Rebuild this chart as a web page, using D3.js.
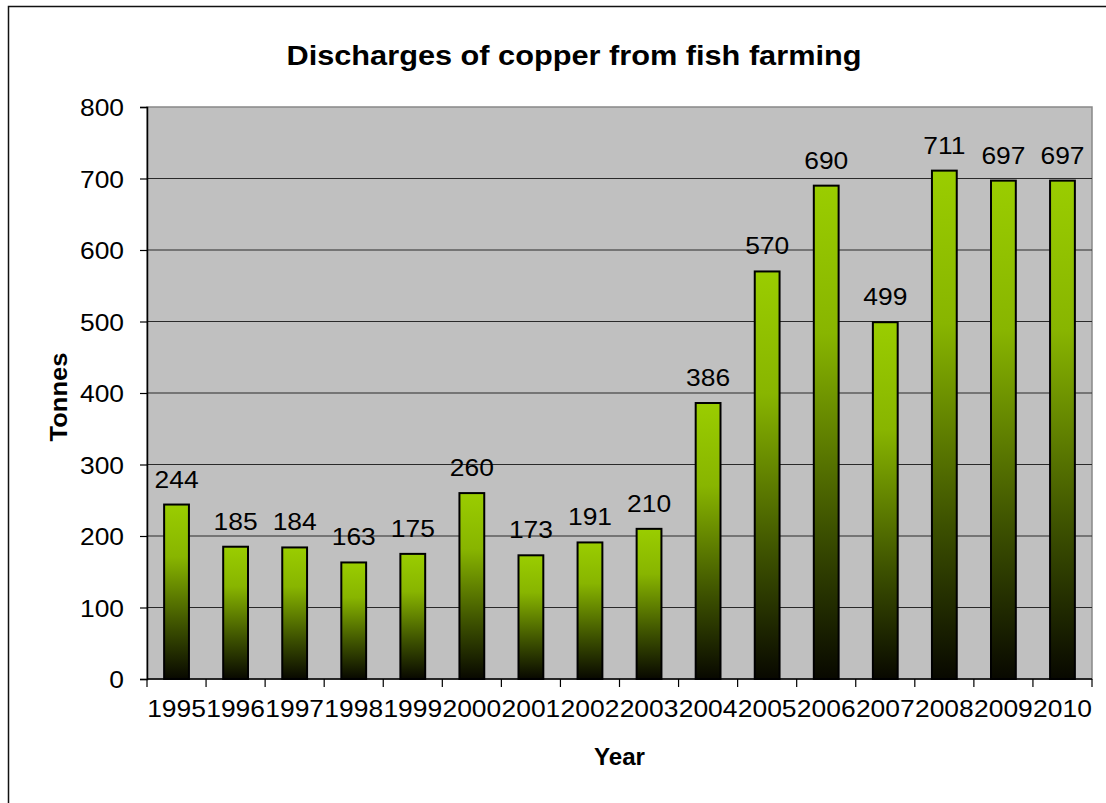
<!DOCTYPE html>
<html lang="en">
<head>
<meta charset="UTF-8">
<title>Discharges of copper from fish farming</title>
<script src="https://cdnjs.cloudflare.com/ajax/libs/d3/7.8.5/d3.min.js"></script>
<style>
  body { margin: 0; background: #fff; font-family: "Liberation Sans", Arial, sans-serif; }
</style>
</head>
<body>
<div id="chart"></div>
<script>
  // data
  const years = ["1995","1996","1997","1998","1999","2000","2001","2002","2003","2004","2005","2006","2007","2008","2009","2010"];
  const tonnes = [244, 185, 184, 163, 175, 260, 173, 191, 210, 386, 570, 690, 499, 711, 697, 697];
  const yTicks = [0, 100, 200, 300, 400, 500, 600, 700, 800];

  const width = 1106, height = 803;
  const plot = {left: 147, right: 1092, top: 107, bottom: 679};
  const stretch = 1.1; // text in the original looks a bit wide
  const fs = 24;

  const svg = d3.select("#chart").append("svg")
    .attr("width", width).attr("height", height);

  // outer chart border
  svg.append("rect")
    .attr("x", 8.5).attr("y", 6.5).attr("width", 1300).attr("height", 1000)
    .attr("fill", "#fff").attr("stroke", "#111").attr("stroke-width", 1.5);

  const x = d3.scaleBand().domain(years).range([plot.left, plot.right]);
  const y = d3.scaleLinear().domain([0, 800]).range([plot.bottom, plot.top]);

  const grad = svg.append("defs").append("linearGradient")
    .attr("id", "barGrad").attr("x1", 0).attr("y1", 0).attr("x2", 0).attr("y2", 1);
  grad.append("stop").attr("offset", "0%").attr("stop-color", "#9acd00");
  grad.append("stop").attr("offset", "30%").attr("stop-color", "#88b500");
  grad.append("stop").attr("offset", "70%").attr("stop-color", "#3c5000");
  grad.append("stop").attr("offset", "100%").attr("stop-color", "#080800");

  // plot background
  svg.append("rect")
    .attr("x", plot.left).attr("y", plot.top)
    .attr("width", plot.right - plot.left).attr("height", plot.bottom - plot.top)
    .attr("fill", "#c0c0c0").attr("stroke", "#888").attr("stroke-width", 1.5);

  // gridlines
  svg.append("g").selectAll("line")
    .data(yTicks.filter(d => d > 0 && d < 800))
    .join("line")
    .attr("x1", plot.left).attr("x2", plot.right)
    .attr("y1", d => y(d)).attr("y2", d => y(d))
    .attr("stroke", "#2a2a2a").attr("stroke-width", 1);

  // y axis
  const yAxis = svg.append("g")
    .attr("transform", `translate(${plot.left},0)`)
    .call(d3.axisLeft(y).tickValues(yTicks).tickSize(7).tickPadding(0));
  yAxis.select(".domain").attr("stroke", "#000").attr("stroke-width", 1.5);
  yAxis.selectAll(".tick line").attr("stroke", "#000").attr("stroke-width", 1.2);
  yAxis.selectAll(".tick text")
    .attr("x", 0).attr("dy", null).attr("y", 0)
    .attr("font-size", fs).attr("fill", "#000")
    .attr("font-family", "Liberation Sans, Arial, sans-serif")
    .attr("dominant-baseline", "central")
    .attr("text-anchor", "end")
    .attr("transform", `translate(-23,0) scale(${stretch},1)`);

  // bars
  const bw = x.bandwidth() * 0.42;
  svg.append("g").selectAll("rect")
    .data(tonnes)
    .join("rect")
    .attr("x", (d, i) => x(years[i]) + (x.bandwidth() - bw) / 2)
    .attr("y", d => y(d))
    .attr("width", bw)
    .attr("height", d => y(0) - y(d))
    .attr("fill", "url(#barGrad)")
    .attr("stroke", "#000").attr("stroke-width", 2);

  // value labels
  svg.append("g").selectAll("text")
    .data(tonnes)
    .join("text")
    .attr("transform", (d, i) => `translate(${x(years[i]) + x.bandwidth() / 2},${y(d) - 17}) scale(${stretch},1)`)
    .attr("text-anchor", "middle")
    .attr("font-size", fs)
    .attr("fill", "#000")
    .text(d => d);

  // x axis line and boundary ticks
  svg.append("line")
    .attr("x1", plot.left).attr("x2", plot.right)
    .attr("y1", plot.bottom).attr("y2", plot.bottom)
    .attr("stroke", "#000").attr("stroke-width", 1.5);
  const bounds = years.map(d => x(d)).concat([plot.right]);
  svg.append("g").selectAll("line")
    .data(bounds)
    .join("line")
    .attr("x1", d => d).attr("x2", d => d)
    .attr("y1", plot.bottom).attr("y2", plot.bottom + 8)
    .attr("stroke", "#000").attr("stroke-width", 1.2);

  svg.append("g").selectAll("text")
    .data(years)
    .join("text")
    .attr("transform", d => `translate(${x(d) + x.bandwidth() / 2},${plot.bottom + 38}) scale(${stretch},1)`)
    .attr("text-anchor", "middle")
    .attr("font-size", fs)
    .attr("fill", "#000")
    .text(d => d);

  // titles
  svg.append("text")
    .attr("x", 574).attr("y", 65)
    .attr("text-anchor", "middle")
    .attr("font-size", 27).attr("font-weight", "bold")
    .attr("textLength", 575).attr("lengthAdjust", "spacingAndGlyphs")
    .text("Discharges of copper from fish farming");

  svg.append("text")
    .attr("transform", `translate(67,397) rotate(-90)`)
    .attr("text-anchor", "middle")
    .attr("font-size", 23).attr("font-weight", "bold")
    .attr("textLength", 89).attr("lengthAdjust", "spacingAndGlyphs")
    .text("Tonnes");

  svg.append("text")
    .attr("transform", `translate(${(plot.left + plot.right) / 2},765) scale(1.05,1)`)
    .attr("text-anchor", "middle")
    .attr("font-size", 23).attr("font-weight", "bold")
    .text("Year");
</script>
</body>
</html>
